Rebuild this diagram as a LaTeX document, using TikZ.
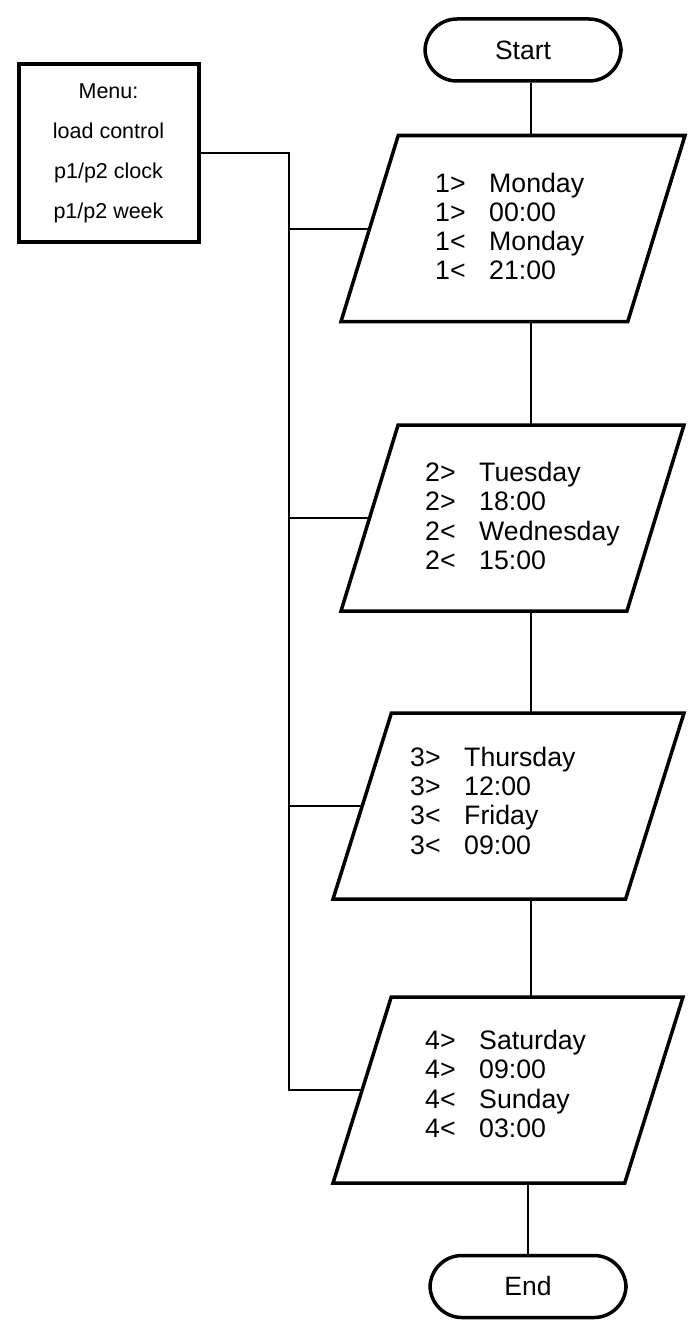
\documentclass[tikz,border=0pt]{standalone}
\usepackage{fontspec}
\setmainfont{Liberation Sans}
\usetikzlibrary{shapes.geometric}
\newcommand{\dayrow}[2]{\makebox[54pt][l]{#1}#2}

\begin{document}
\begin{tikzpicture}[x=1pt,y=-1pt,
  term/.style={draw,line width=3.5pt,rounded corners=32pt,minimum width=196pt,minimum height=62pt,inner sep=0pt,font=\fontsize{26.5}{30}\selectfont},
  io/.style={draw,trapezium,trapezium left angle=76,trapezium right angle=104,trapezium stretches=true,line width=3.5pt,minimum height=186pt,inner sep=4pt,outer sep=0pt},
  txt/.style={anchor=west,align=left,inner sep=0pt,font=\fontsize{26.7}{29.3}\selectfont},
  link/.style={line width=2pt}]
\useasboundingbox (0,0) rectangle (691,1327);
\coordinate (spine) at (531,0);
\coordinate (bus) at (289,0);
% menu box
\node[draw,line width=4pt,minimum width=180pt,minimum height=177pt,inner sep=0pt,align=center,font=\fontsize{21.5}{40}\selectfont] (menu) at (108.5,153) {Menu:\\load control\\p1/p2 clock\\p1/p2 week};
% terminals
\node[term] (start) at (523,50) {Start};
\node[term] (end) at (528,1286.5) {End};
% program steps
\node[io,minimum width=344pt] (p1) at (513,228.5) {};
\node[io,minimum width=343pt] (p2) at (512.5,518) {};
\node[io,minimum width=351pt] (p3) at (508.5,806) {};
\node[io,minimum width=350pt] (p4) at (508,1090) {};
\node[txt] (t1) at (435,226.5) {\dayrow{1>}{Monday}\\\dayrow{1>}{00:00}\\\dayrow{1<}{Monday}\\\dayrow{1<}{21:00}};
\node[txt] (t2) at (425,516) {\dayrow{2>}{Tuesday}\\\dayrow{2>}{18:00}\\\dayrow{2<}{Wednesday}\\\dayrow{2<}{15:00}};
\node[txt] (t3) at (410,800.5) {\dayrow{3>}{Thursday}\\\dayrow{3>}{12:00}\\\dayrow{3<}{Friday}\\\dayrow{3<}{09:00}};
\node[txt] (t4) at (425,1084) {\dayrow{4>}{Saturday}\\\dayrow{4>}{09:00}\\\dayrow{4<}{Sunday}\\\dayrow{4<}{03:00}};
% flow
\draw[link] (start.south -| spine) -- (p1.north -| spine);
\draw[link] (p1.south -| spine) -- (p2.north -| spine);
\draw[link] (p2.south -| spine) -- (p3.north -| spine);
\draw[link] (p3.south -| spine) -- (p4.north -| spine);
\draw[link] (p4.south -| end) -- (end.north);
% menu bus
\draw[link] (menu.east) -| (p4.left side -| bus) -- (p4.left side);
\foreach \p in {p1,p2,p3}
  \draw[link] (\p.left side -| bus) -- (\p.left side);
\end{tikzpicture}
\end{document}
